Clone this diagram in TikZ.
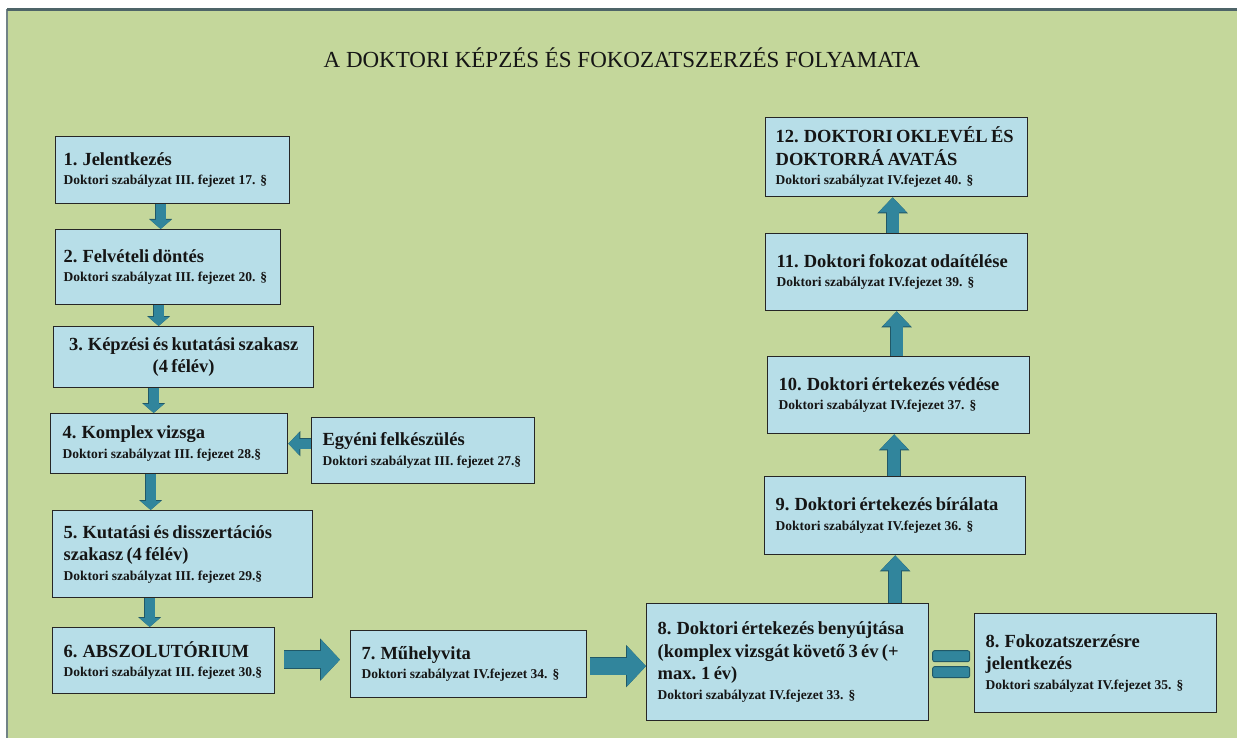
\documentclass[tikz,border=0pt]{standalone}
\usepackage{fontspec}
\setmainfont{Liberation Serif}
\usetikzlibrary{arrows.meta,calc}
\definecolor{bggreen}{HTML}{C4D79B}
\definecolor{boxblue}{HTML}{B7DEE8}
\definecolor{arrowfill}{HTML}{31859C}
\definecolor{arrowedge}{HTML}{205867}
\definecolor{frameline}{HTML}{4E6468}
\definecolor{inktext}{HTML}{151515}
\newcommand{\boxtitle}{\fontsize{18.5}{22.5}\selectfont\bfseries}
\newcommand{\boxsub}{\fontsize{13.5}{19.5}\selectfont\bfseries}
\begin{document}
\begin{tikzpicture}[x=1pt,y=-1pt,
  stepbox/.style={draw=black!85, line width=1.3pt, fill=boxblue, anchor=north west,
    inner xsep=11pt, inner ysep=2pt, align=left, text=inktext},
  narrowpad/.style={inner xsep=8pt},
  downarr/.style={draw=arrowfill, line width=10pt, -{Triangle[width=20pt,length=9pt]},
    preaction={draw=arrowedge, line width=11.5pt, -{Triangle[width=22.5pt,length=10pt]}}},
  sidearr/.style={draw=arrowfill, line width=10pt, -{Triangle[width=22pt,length=11pt]},
    preaction={draw=arrowedge, line width=11.5pt, -{Triangle[width=24.5pt,length=12pt]}}},
  uparr/.style={draw=arrowfill, line width=12pt, -{Triangle[width=27pt,length=15pt]},
    preaction={draw=arrowedge, line width=13.5pt, -{Triangle[width=29.5pt,length=16pt]}}},
  bigarr/.style={draw=arrowfill, line width=17pt, -{Triangle[width=39pt,length=19pt]},
    preaction={draw=arrowedge, line width=18.5pt, -{Triangle[width=41.5pt,length=20pt]}}},
  eqbar/.style={fill=arrowfill, draw=arrowedge, line width=0.9pt, rounded corners=2pt},
  headline/.style={font=\fontsize{23}{27}\selectfont, text=inktext, anchor=base}
]
\useasboundingbox (0,0) rectangle (1237,738);
% background
\fill[white] (0,0) rectangle (1237,738);
\fill[bggreen] (7,9) rectangle (1237,738);
\draw[frameline!80, line width=1.2pt] (7,9) -- (7,738);
\draw[frameline, line width=3pt] (7,9.5) -- (1237,9.5);

\node[headline] (title) at (622,68) {A DOKTORI KÉPZÉS ÉS FOKOZATSZERZÉS FOLYAMATA};

% left column
\node[stepbox, narrowpad, minimum width=234pt, text width=218pt, minimum height=67pt] (b1) at (55,136)
  {{\boxtitle 1. Jelentkezés\par}{\boxsub Doktori szabályzat III. fejezet 17. §\par}};
\node[stepbox, narrowpad, minimum width=225pt, text width=209pt, minimum height=75pt] (b2) at (55,229)
  {{\boxtitle 2. Felvételi döntés\par}{\boxsub Doktori szabályzat III. fejezet 20. §\par}};
\node[stepbox, align=center, minimum width=260pt, text width=240pt, minimum height=61pt, inner xsep=10pt] (b3) at (53,326)
  {{\boxtitle 3. Képzési és kutatási szakasz\\(4 félév)\par}};
\node[stepbox, minimum width=237pt, text width=213pt, minimum height=60pt, inner xsep=12pt] (b4) at (50,413)
  {{\boxtitle 4. Komplex vizsga\par}{\boxsub Doktori szabályzat III. fejezet 28.§\par}};
\node[stepbox, minimum width=223pt, text width=201pt, minimum height=66pt] (bE) at (311,417)
  {{\boxtitle Egyéni felkészülés\par}{\boxsub Doktori szabályzat III. fejezet 27.§\par}};
\node[stepbox, minimum width=260pt, text width=238pt, minimum height=87pt] (b5) at (52,510)
  {{\boxtitle 5. Kutatási és disszertációs\\szakasz (4 félév)\par}{\boxsub Doktori szabályzat III. fejezet 29.§\par}};
\node[stepbox, minimum width=222pt, text width=200pt, minimum height=66pt] (b6) at (52,627)
  {{\boxtitle 6. ABSZOLUTÓRIUM\par}{\boxsub Doktori szabályzat III. fejezet 30.§\par}};

% bottom row
\node[stepbox, minimum width=236pt, text width=214pt, minimum height=67pt] (b7) at (350,630)
  {{\boxtitle 7. Műhelyvita\par}{\boxsub Doktori szabályzat IV.fejezet 34. §\par}};
\node[stepbox, minimum width=282pt, text width=260pt, minimum height=117pt] (b8) at (646,603)
  {{\boxtitle 8. Doktori értekezés benyújtása\\(komplex vizsgát követő 3 év (+\\max. 1 év)\par}{\boxsub Doktori szabályzat IV.fejezet 33. §\par}};
\node[stepbox, minimum width=242pt, text width=220pt, minimum height=99pt] (b8b) at (974,613)
  {{\boxtitle 8. Fokozatszerzésre\\jelentkezés\par}{\boxsub Doktori szabályzat IV.fejezet 35. §\par}};

% right column
\node[stepbox, minimum width=261pt, text width=239pt, minimum height=78pt] (b9) at (764,476)
  {{\boxtitle 9. Doktori értekezés bírálata\par}{\boxsub Doktori szabályzat IV.fejezet 36. §\par}};
\node[stepbox, minimum width=262pt, text width=240pt, minimum height=77pt] (b10) at (767,356)
  {{\boxtitle 10. Doktori értekezés védése\par}{\boxsub Doktori szabályzat IV.fejezet 37. §\par}};
\node[stepbox, minimum width=262pt, text width=240pt, minimum height=77pt] (b11) at (765,233)
  {{\boxtitle 11. Doktori fokozat odaítélése\par}{\boxsub Doktori szabályzat IV.fejezet 39. §\par}};
\node[stepbox, minimum width=262pt, text width=242pt, minimum height=79pt, inner xsep=10pt] (b12) at (765,117)
  {{\boxtitle 12. DOKTORI OKLEVÉL ÉS\\DOKTORRÁ AVATÁS\par}{\boxsub Doktori szabályzat IV.fejezet 40. §\par}};

% connectors
\draw[downarr] ([xshift=-12pt]b1.south) -- ([xshift=-12pt]b1.south |- b2.north);
\draw[downarr] ([xshift=-9.5pt]b2.south) -- ([xshift=-9.5pt]b2.south |- b3.north);
\draw[downarr] ([xshift=-30pt]b3.south) -- ([xshift=-30pt]b3.south |- b4.north);
\draw[downarr] ([xshift=-18.5pt]b4.south) -- ([xshift=-18.5pt]b4.south |- b5.north);
\draw[downarr] ([xshift=-33pt]b5.south) -- ([xshift=-33pt]b5.south |- b6.north);
\draw[sidearr] ([yshift=7pt]bE.west) -- ([yshift=7pt]bE.west -| b4.east);
\draw[bigarr] ([xshift=9pt,yshift=1pt]b6.east) -- ([xshift=-10pt,yshift=1pt]b6.east -| b7.west);
\draw[bigarr] ([xshift=3pt,yshift=-2pt]b7.east) -- ([yshift=-2pt]b7.east -| b8.west);
\draw[uparr] (b9.south |- b8.north) -- (b9.south);
\draw[uparr] ([xshift=-1pt]b9.north) -- ([xshift=-1pt]b9.north |- b10.south);
\draw[uparr] ([xshift=-2pt]b10.north) -- ([xshift=-2pt]b10.north |- b11.south);
\draw[uparr] ([xshift=-4pt]b11.north) -- ([xshift=-4pt]b11.north |- b12.south);
% equals sign between the two step 8 boxes
\coordinate (eq) at ($(b8.east)!0.5!(b8b.west)$);
\draw[eqbar] ([xshift=-19pt,yshift=1pt]eq) rectangle ([xshift=18pt,yshift=12pt]eq);
\draw[eqbar] ([xshift=-19pt,yshift=-4pt]eq) rectangle ([xshift=18pt,yshift=-15pt]eq);
\end{tikzpicture}
\end{document}
